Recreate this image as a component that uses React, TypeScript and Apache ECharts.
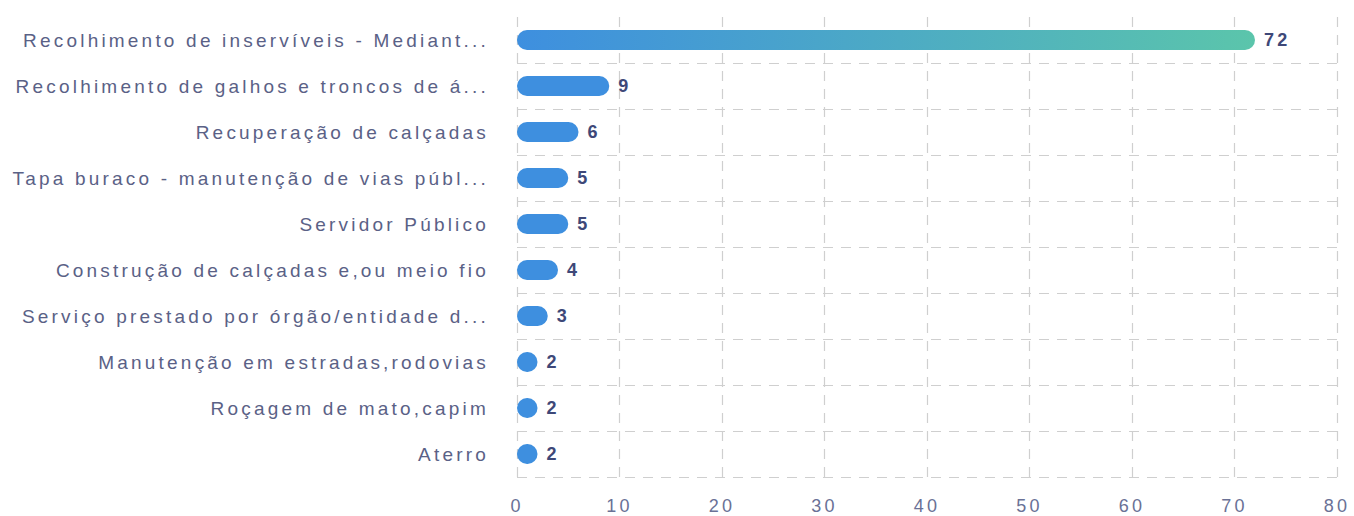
import React, { useEffect, useRef } from "react";
import * as echarts from "echarts";

const categories: string[] = [
  "Recolhimento de inservíveis - Mediant...",
  "Recolhimento de galhos e troncos de á...",
  "Recuperação de calçadas",
  "Tapa buraco - manutenção de vias públ...",
  "Servidor Público",
  "Construção de calçadas e,ou meio fio",
  "Serviço prestado por órgão/entidade d...",
  "Manutenção em estradas,rodovias",
  "Roçagem de mato,capim",
  "Aterro",
];
const values: number[] = [72, 9, 6, 5, 5, 4, 3, 2, 2, 2];
const xTicks = { min: 0, max: 80, interval: 10 };

const BLUE = "#3e8fdf";
const TEAL = "#5bc5ab";

export default function App() {
  const ref = useRef<HTMLDivElement>(null);
  useEffect(() => {
    if (!ref.current) return;
    const chart = echarts.init(ref.current, undefined, { renderer: "svg" });
    const maxVal = Math.max(...values);
    chart.setOption({
      animation: false,
      grid: { left: 517, right: 17, top: 17, bottom: 39, containLabel: false },
      xAxis: {
        type: "value",
        min: xTicks.min,
        max: xTicks.max,
        interval: xTicks.interval,
        axisLine: { show: false },
        axisTick: { show: false },
        axisLabel: {
          color: "#6a7196",
          fontSize: 18,
          fontFamily: "Liberation Sans, Arial, sans-serif",
          margin: 20,
        },
        splitLine: {
          show: true,
          lineStyle: { color: "#cfcfcf", type: [10, 8], width: 1.2 },
        },
      },
      yAxis: {
        type: "category",
        inverse: true,
        data: categories,
        axisLine: { show: false },
        axisTick: { show: false },
        axisLabel: {
          color: "#5a6186",
          fontSize: 19,
          fontFamily: "Liberation Sans, Arial, sans-serif",
          margin: 28,
        },
        splitLine: {
          show: true,
          interval: (index: number) => index !== 0,
          lineStyle: { color: "#cfcfcf", type: [10, 8], width: 1.2 },
        },
      },
      series: [
        {
          type: "bar",
          data: values.map((v) => ({
            value: v,
            itemStyle: {
              color:
                v === maxVal
                  ? new echarts.graphic.LinearGradient(0, 0, 1, 0, [
                      { offset: 0, color: BLUE },
                      { offset: 1, color: TEAL },
                    ])
                  : BLUE,
            },
          })),
          barWidth: 20,
          itemStyle: { borderRadius: 10 },
          label: {
            show: true,
            position: "right",
            distance: 9,
            color: "#3e4878",
            fontSize: 18,
            fontWeight: "bold",
            fontFamily: "Liberation Sans, Arial, sans-serif",
          },
        },
      ],
    });
    return () => chart.dispose();
  }, []);
  return (
    <>
      <style>{`#chart-root text { letter-spacing: 3.2px; }`}</style>
      <div
        id="chart-root"
        ref={ref}
        style={{ position: "absolute", left: 0, top: 0, width: 1354, height: 516 }}
      />
    </>
  );
}
